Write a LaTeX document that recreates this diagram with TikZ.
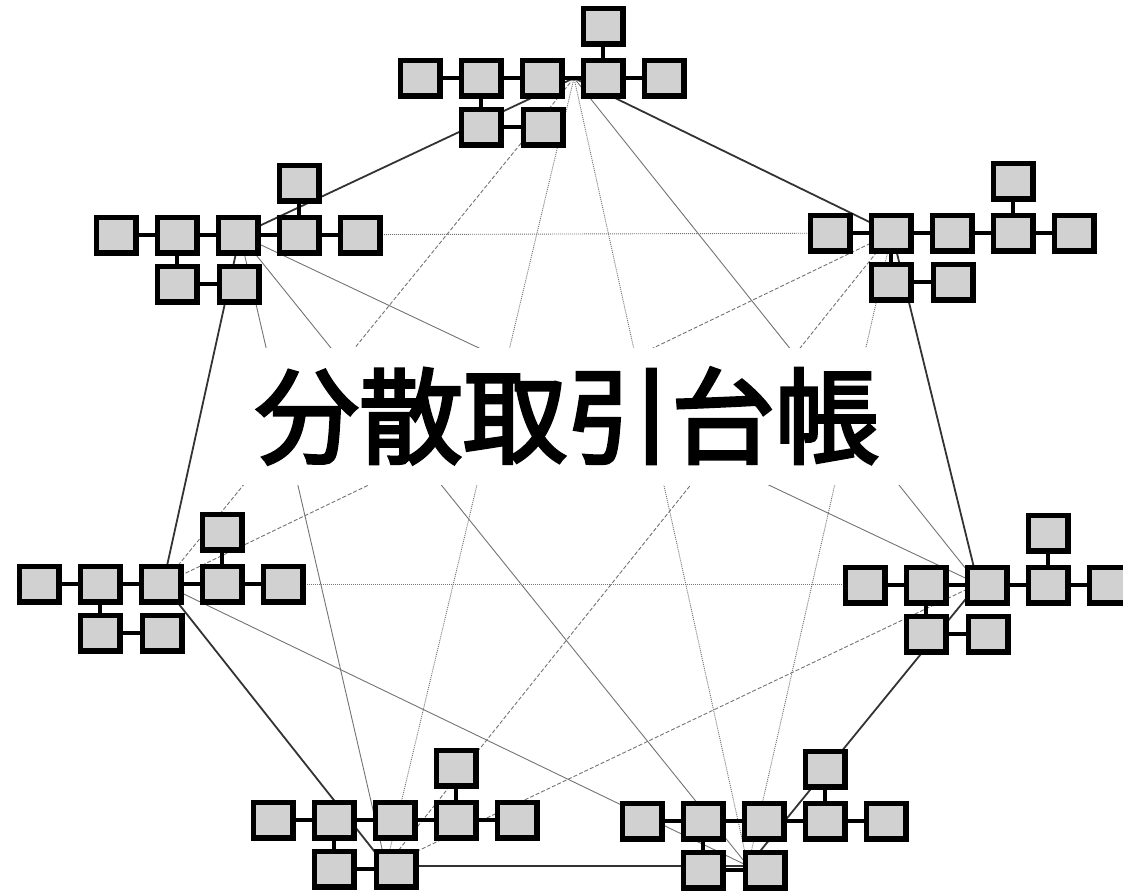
\documentclass[tikz,border=0pt]{standalone}
\usepackage{fontspec}
\newfontfamily\cjk[FakeBold=3]{Noto Sans CJK JP}
\definecolor{boxfill}{gray}{0.82}
\definecolor{thinline}{gray}{0.45}
\tikzset{
  x=1pt, y=-1pt,
  box/.style={draw=black, line width=5.5pt, fill=boxfill, minimum width=39.5pt, minimum height=35.5pt, inner sep=0pt},
  link/.style={line width=4.5pt, black},
  outer/.style={line width=1.8pt, black!80},
  thinsolid/.style={line width=0.9pt, thinline},
  dotline/.style={line width=0.9pt, thinline, dash pattern=on 1pt off 1pt},
  dashline/.style={line width=0.9pt, thinline, dash pattern=on 4pt off 2pt},
}
\newcommand\mkcluster[3]{%
  \foreach \i in {1,...,5} {\node[box] (#1\i) at ({#2+(\i-1)*61},#3) {};}
  \node[box] (#1t) at ({#2+183},{#3-52}) {};
  \node[box] (#1a) at ({#2+61},{#3+49}) {};
  \node[box] (#1b) at ({#2+123},{#3+49}) {};
  \draw[link] (#11)--(#12) (#12)--(#13) (#13)--(#14) (#14)--(#15) (#1t)--(#14) (#12)--(#1a) (#1a)--(#1b);
}
\begin{document}
\begin{tikzpicture}
\useasboundingbox (0,0) rectangle (1123,894);
% hubs
\coordinate (hT) at (574,78);
\coordinate (hUL) at (240,235);
\coordinate (hUR) at (892,233);
\coordinate (hR) at (978,584);
\coordinate (hBR) at (748,866);
\coordinate (hBL) at (386,866);
\coordinate (hL) at (163,584);
% outer heptagon
\draw[outer] (hT)--(hUR);
\draw[outer] (hUR)--(hR);
\draw[outer] (hR)--(hBR);
\draw[outer] (hBR)--(hBL);
\draw[outer] (hBL)--(hL);
\draw[outer] (hL)--(hUL);
\draw[outer] (hUL)--(hT);
% dotted chords
\draw[dotline] (hUL)--(hUR);
\draw[dotline] (hL)--(hR);
\draw[dotline] (hT)--(hBL);
\draw[dotline] (hT)--(hBR);
\draw[dotline] (hUR)--(hBR);
% dashed chords
\draw[dashline] (hT)--(hL);
\draw[dashline] (hUR)--(hL);
\draw[dashline] (hUR)--(hBL);
\draw[dashline] (hR)--(hBL);
% thin solid chords
\draw[thinsolid] (hT)--(hR);
\draw[thinsolid] (hUL)--(hR);
\draw[thinsolid] (hUL)--(hBR);
\draw[thinsolid] (hUL)--(hBL);
\draw[thinsolid] (hL)--(hBR);
% title with white band
\node[fill=white, minimum width=685pt, minimum height=137pt, inner sep=0pt,
      font=\cjk\fontsize{104}{104}\selectfont] (title) at (567,416) {分散取引台帳};
% clusters
\mkcluster{T}{420}{78}
\mkcluster{UL}{116}{235}
\mkcluster{UR}{830}{233}
\mkcluster{L}{39}{584}
\mkcluster{R}{865}{585}
\mkcluster{BL}{273}{820}
\mkcluster{BR}{642}{821}
\end{tikzpicture}
\end{document}
